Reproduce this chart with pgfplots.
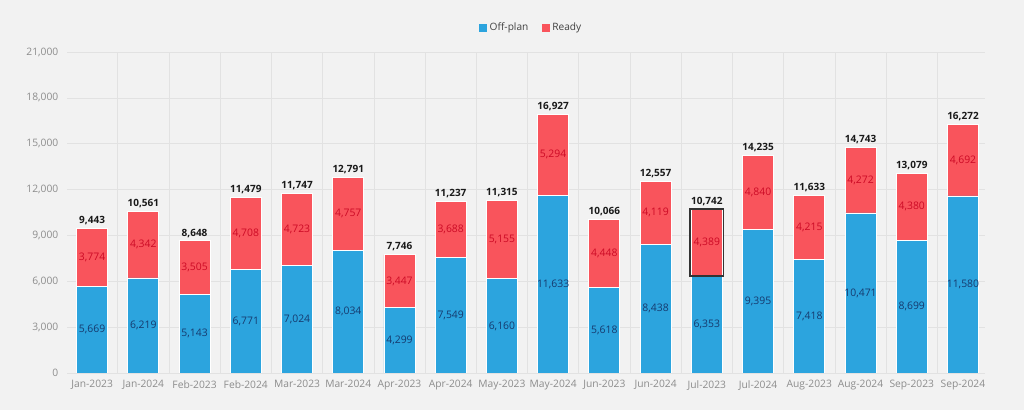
\documentclass[border=0pt]{standalone}
\usepackage{pgfplots}
\pgfplotsset{compat=1.18}
\usepackage{pgfplotstable}
\usepackage{fontspec}
\setmainfont{Open Sans}
\definecolor{bgc}{HTML}{F2F2F2}
\definecolor{cblue}{HTML}{2CA4DE}
\definecolor{cred}{HTML}{F9545C}
\definecolor{lblue}{HTML}{163A6E}
\definecolor{lred}{HTML}{CC0A25}
\definecolor{tickc}{HTML}{8C8C8C}
\definecolor{gridc}{HTML}{E2E2E2}
\pgfplotstableread{
x label off ready total
0 Jan-2023 5669 3774 9443
1 Jan-2024 6219 4342 10561
2 Feb-2023 5143 3505 8648
3 Feb-2024 6771 4708 11479
4 Mar-2023 7024 4723 11747
5 Mar-2024 8034 4757 12791
6 Apr-2023 4299 3447 7746
7 Apr-2024 7549 3688 11237
8 May-2023 6160 5155 11315
9 May-2024 11633 5294 16927
10 Jun-2023 5618 4448 10066
11 Jun-2024 8438 4119 12557
12 Jul-2023 6353 4389 10742
13 Jul-2024 9395 4840 14235
14 Aug-2023 7418 4215 11633
15 Aug-2024 10471 4272 14743
16 Sep-2023 8699 4380 13079
17 Sep-2024 11580 4692 16272
}\data
\begin{document}
\begin{tikzpicture}
\fill[bgc] (0pt,0pt) rectangle (768pt,307.5pt);
\pgfplotsset{base/.style={at={(50.25pt,27.75pt)}, anchor=south west, scale only axis,
  width=688.5pt, height=240.75pt, xmin=-0.49, xmax=17.43, ymin=0, ymax=21000}}
\begin{axis}[base, ybar stacked, bar width=23.25pt,
  axis line style={draw=none},
  major tick length=0pt, minor tick length=0pt,
  xtick={0,...,17}, xticklabels from table={\data}{label},
  minor xtick={0.5,1.5,...,16.5},
  xminorgrids, minor x grid style={gridc, line width=0.5pt},
  ytick={0,3000,...,21000}, ymajorgrids, major grid style={gridc, line width=0.5pt},
  extra y ticks={0}, extra y tick labels={},
  extra y tick style={grid style={color=black!25, line width=0.7pt}},
  scaled y ticks=false,
  yticklabel style={/pgf/number format/fixed, /pgf/number format/1000 sep={,}, /pgf/number format/assume math mode=true, xshift=-3pt},
  ticklabel style={font=\fontsize{7.7}{8}\selectfont, text=tickc},
  xticklabel style={yshift=-2pt},
  legend style={at={(0.506,1.075)}, anchor=center, draw=none, fill=none,
    legend columns=2, font=\fontsize{7.6}{8}\selectfont, text=black!75,
    /tikz/every even column/.append style={column sep=8pt}},
  legend image code/.code={\path[#1, draw=none] (0pt,-3pt) rectangle (6pt,3pt);},
]
\addplot[fill=cblue, draw=white, line width=0.6pt] table[x=x, y=off]{\data};
\addlegendentry{Off-plan}
\addplot[fill=cred, draw=white, line width=0.6pt] table[x=x, y=ready]{\data};
\addlegendentry{Ready}
\end{axis}
\begin{axis}[base, hide axis, ybar stacked, bar width=25pt]
\addplot[draw=none, fill=none] coordinates {(12,6353)};
\addplot[draw=black!80, fill=none, line width=1.3pt] coordinates {(12,4389)};
\end{axis}
\begin{axis}[base, hide axis, clip=false,
  nodes near coords={\pgfmathprintnumber[fixed, precision=0, 1000 sep={,}, assume math mode=true]{\pgfplotspointmeta}},
  point meta=explicit]
\addplot[draw=none, no markers, every node near coord/.append style={anchor=center, text=lblue, font=\fontsize{7.8}{8}\selectfont}]
  table[x=x, y expr=\thisrow{off}/2, meta=off]{\data};
\addplot[draw=none, no markers, every node near coord/.append style={anchor=center, text=lred, font=\fontsize{7.8}{8}\selectfont}]
  table[x=x, y expr=\thisrow{off}+\thisrow{ready}/2, meta=ready]{\data};
\addplot[draw=none, no markers, every node near coord/.append style={anchor=south, yshift=-1pt, text=black!90, font=\bfseries\fontsize{7.5}{8}\selectfont}]
  table[x=x, y=total, meta=total]{\data};
\end{axis}
\end{tikzpicture}
\end{document}
